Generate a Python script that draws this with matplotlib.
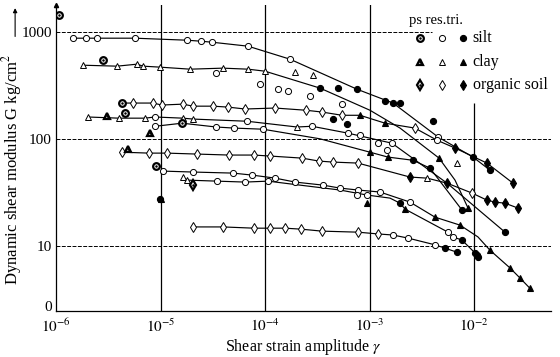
import matplotlib
matplotlib.use("Agg")
import matplotlib.pyplot as plt
from matplotlib.ticker import NullLocator

plt.rcParams['font.family'] = ['Liberation Serif', 'DejaVu Serif']
plt.rcParams['mathtext.fontset'] = 'stix'

# strain amplitude gamma, shear modulus G (kg/cm2), marker kind per point
# kind: soil letter (s silt, c clay, o organic) + test letter (p ps, r res, t tri, n none)
gam1 = [1.46e-6, 1.94e-6, 2.47e-6, 5.7e-6, 1.79e-5, 2.44e-5, 3.1e-5, 6.88e-5, 1.73e-4, 7.59e-4, 1.68e-3, 4.53e-3, 9.78e-3, 1.42e-2]
G1 = [873, 873, 873, 873, 836, 818, 801, 735, 556, 291, 216, 104, 67.5, 51]
k1 = ['sr'] * 9 + ['st', 'st', 'sr', 'st', 'st']

gam2 = [1.81e-6, 3.84e-6, 5.96e-6, 6.81e-6, 9.9e-6, 1.92e-5, 3.96e-5, 6.88e-5, 1.0e-4, 3.36e-4, 1.01e-3, 1.96e-3, 4.63e-3, 6.58e-3, 8.77e-3]
G2 = [488, 478, 499, 478, 468, 448, 458, 448, 429, 298, 185, 126, 66, 41.1, 22.5]
k2 = ['cr'] * 9 + ['st', 'cn', 'cn', 'ct', 'cn', 'ct']

gam3 = [4.28e-6, 5.46e-6, 8.48e-6, 1.03e-5, 1.64e-5, 2.05e-5, 3.18e-5, 4.42e-5, 6.44e-5, 1.25e-4, 2.47e-4, 3.51e-4, 5.46e-4, 8.11e-4, 1.41e-3, 2.72e-3, 4.43e-3, 6.58e-3, 1.33e-2, 2.36e-2]
G3 = [216, 216, 216, 207, 211, 202, 202, 198, 190, 194, 185, 178, 166, 166, 140, 126, 97, 82, 59.3, 38.5]
k3 = ['sp'] + ['or'] * 12 + ['ct', 'ct', 'or', 'sr', 'ot', 'ot', 'ot']

gam4 = [2.02e-6, 4.0e-6, 7.1e-6, 8.86e-6, 1.64e-5, 2.05e-5, 6.73e-5, 2.02e-4, 2.82e-4, 6.22e-4, 1.64e-3, 5.52e-3, 1.98e-2]
G4 = [160, 156, 156, 160, 156, 153, 146, 129, 131, 113, 91, 38.5, 13.4]
k4 = ['cr', 'cr', 'cr', 'sr', 'cr', 'cr', 'sr', 'cr', 'sr', 'sr', 'sr', 'sn', 'st']

gam5 = [8.86e-6, 1.61e-5, 3.4e-5, 5.05e-5, 9.57e-5, 3.36e-4, 1.01e-3, 1.5e-3, 2.61e-3, 3.79e-3, 7.67e-3]
G5 = [131, 140, 129, 126, 123, 100, 75, 67.5, 63, 53.2, 21.6]
k5 = ['sr', 'sp', 'sr', 'sr', 'sr', 'sn', 'ct', 'ct', 'st', 'st', 'st']

gam6 = [4.28e-6, 7.76e-6, 1.15e-5, 2.24e-5, 4.53e-5, 7.85e-5, 1.12e-4, 2.26e-4, 3.29e-4, 4.47e-4, 7.76e-4, 2.44e-3, 3.55e-3, 5.52e-3, 9.57e-3, 1.33e-2, 1.59e-2, 1.98e-2, 2.64e-2]
G6 = [75, 73.5, 73.5, 72, 70.5, 70.5, 69, 66, 61.9, 60.6, 59.3, 43.9, 42.9, 38.5, 31.1, 26.7, 25.6, 25.0, 22.5]
k6 = ['or'] * 11 + ['ot', 'cr', 'ot', 'or', 'ot', 'ot', 'ot', 'ot']

gam7 = [1.06e-5, 2.05e-5, 4.94e-5, 7.51e-5, 1.25e-4, 1.94e-4, 3.59e-4, 5.22e-4, 7.76e-4, 1.26e-3, 2.44e-3, 4.24e-3, 7.34e-3, 1.09e-2, 1.42e-2, 2.21e-2, 2.75e-2, 3.43e-2]
G7 = [49.9, 48.9, 47.8, 45.8, 42.9, 39.4, 36.9, 34.6, 33.2, 31.8, 25.6, 18.5, 15.6, 12.1, 9.1, 6.2, 5.0, 4.0]
k7 = ['sr'] * 11 + ['ct', 'ct', 'cn', 'ct', 'ct', 'ct', 'ct']

gam8 = [1.64e-5, 1.79e-5, 3.48e-5, 6.44e-5, 1.07e-4, 2.16e-4, 5.22e-4, 9.46e-4, 1.57e-3, 1.96e-3, 2.19e-3, 5.64e-3, 6.29e-3, 7.67e-3, 1.07e-2]
G8 = [43.9, 41.1, 40.2, 39.4, 40.2, 36.9, 33.2, 29.8, 27.9, 25.0, 22.0, 13.4, 12.1, 11.3, 8.2]
k8 = ['cr', 'cr', 'sr', 'sr', 'sr', 'sn', 'sn', 'sr', 'sn', 'st', 'ct', 'sr', 'sr', 'st', 'st']

gam9 = [2.05e-5, 3.96e-5, 7.85e-5, 1.12e-4, 1.55e-4, 2.21e-4, 3.51e-4, 7.76e-4, 1.2e-3, 1.68e-3, 2.33e-3, 4.24e-3, 5.28e-3, 6.87e-3]
G9 = [15.0, 15.0, 14.6, 14.6, 14.6, 14.3, 13.7, 13.4, 12.9, 12.6, 11.8, 10.2, 9.5, 8.7]
k9 = ['or'] * 9 + ['sr', 'sr', 'sr', 'st', 'st']

curves = [(gam1, G1, k1), (gam2, G2, k2), (gam3, G3, k3), (gam4, G4, k4), (gam5, G5, k5),
          (gam6, G6, k6), (gam7, G7, k7), (gam8, G8, k8), (gam9, G9, k9)]

# single points not on a drawn curve
gam_pts = [1.07e-6, 2.82e-6, 3.08e-6, 4.57e-6, 4.9e-6, 7.94e-6, 9.0e-6, 9.9e-6, 1.02e-5, 2.05e-5,
           1.94e-4, 2.88e-4, 5.0e-4, 3.4e-5, 8.95e-5, 1.33e-4, 1.66e-4, 2.7e-4, 5.46e-4, 4.47e-4,
           6.09e-4, 1.41e-3, 1.96e-3, 4.06e-3, 6.87e-3, 9.46e-4, 8.11e-4, 1.2e-3, 1.47e-3, 7.6e-4,
           1.02e-2, 1.09e-2]
G_pts = [1432, 544, 163, 174, 80, 113, 55.6, 27.3, 27.3, 36.9,
         420, 394, 298, 411, 324, 291, 279, 251, 211, 153,
         137, 225, 216, 146, 59.3, 25, 108, 91, 78, 29.8,
         8.5, 7.8]
k_pts = ['sp', 'sp', 'cp', 'sp', 'cp', 'cp', 'sp', 'st', 'ct', 'op',
         'cr', 'cr', 'st', 'sr', 'sr', 'sr', 'sr', 'sr', 'sr', 'st',
         'st', 'st', 'st', 'st', 'cr', 'ct', 'sr', 'sr', 'sr', 'sr',
         'st', 'st']

xticks = [1e-6, 1e-5, 1e-4, 1e-3, 1e-2]
xlabels = [r'$10^{-6}$', r'$10^{-5}$', r'$10^{-4}$', r'$10^{-3}$', r'$10^{-2}$']
yticks = [2.73, 10, 100, 1000]
ylabels = ['0', '10', '100', '1000']

shapes = {'s': 'o', 'c': '^', 'o': 'd'}


def draw_marker(ax, x, y, kind, transform=None):
    if kind[1] == 'n':
        return
    kw = {}
    if transform is not None:
        kw = dict(transform=transform, clip_on=False)
    m = shapes[kind[0]]
    ms = 5.0 if m == 'd' else 4.4
    if kind[1] == 't':
        ax.plot(x, y, m, ms=ms, mfc='black', mec='black', mew=0.8, zorder=4, **kw)
    elif kind[1] == 'r':
        ax.plot(x, y, m, ms=ms, mfc='white', mec='black', mew=0.7, zorder=4, **kw)
    else:
        ax.plot(x, y, m, ms=ms + 0.4, mfc='white', mec='black', mew=1.6, zorder=4, **kw)
        ax.plot(x, y, '.', ms=1.6, color='black', zorder=5, **kw)


fig = plt.figure(figsize=(5.6, 3.57), dpi=100)
ax = fig.add_axes([0.1, 0.1297, 0.884, 0.856])
ax.set_xscale('log')
ax.set_yscale('log')
ax.set_xlim(1e-6, 0.0546)
ax.set_ylim(2.47, 1780)

# grid as in the original: dashed horizontals, solid verticals
ax.hlines(1000, 1e-6, 3.96e-3, colors='black', linestyles=(0, (4, 1.5)), lw=0.7)
ax.axhline(100, color='black', ls=(0, (4, 1.5)), lw=0.7)
ax.axhline(10, color='black', ls=(0, (4, 1.5)), lw=0.7)
for xv in [1e-5, 1e-4, 1e-3]:
    ax.axvline(xv, color='black', lw=0.9)
ax.vlines(1e-2, 2.47, 216, colors='black', lw=0.9)

for gam, G, kinds in curves:
    ax.plot(gam, G, '-', color='black', lw=0.85, zorder=3)
    for g, v, k in zip(gam, G, kinds):
        draw_marker(ax, g, v, k)

for g, v, k in zip(gam_pts, G_pts, k_pts):
    draw_marker(ax, g, v, k)

ax.set_xticks(xticks)
ax.set_xticklabels(xlabels, fontsize=11)
ax.set_yticks(yticks)
ax.set_yticklabels(ylabels, fontsize=11)
ax.xaxis.set_minor_locator(NullLocator())
ax.yaxis.set_minor_locator(NullLocator())
ax.tick_params(axis='x', length=0, pad=5)
ax.tick_params(axis='y', length=0, pad=3)

ax.spines['top'].set_visible(False)
ax.spines['right'].set_visible(False)
ax.spines['left'].set_linewidth(0.9)
ax.spines['bottom'].set_linewidth(0.9)
ax.plot(0, 1, '^', color='black', ms=3, transform=ax.transAxes, clip_on=False)

ax.set_xlabel(r'Shear strain amplitude $\gamma$', fontsize=11.5)
ax.xaxis.set_label_coords(0.5, -0.085)
ax.set_ylabel(r'Dynamic shear modulus G kg/cm$^2$', fontsize=12)
ax.yaxis.set_label_coords(-0.064, 0.463)
fig.add_artist(matplotlib.patches.FancyArrowPatch((0.027, 0.89), (0.027, 0.985),
                                                  transform=fig.transFigure, arrowstyle='-|>',
                                                  mutation_scale=6, lw=0.8, color='black'))

# hand legend: test types across, soils down
ax.text(0.713, 0.951, 'ps res.tri.', transform=ax.transAxes, fontsize=10.5, va='center')
rows = [('s', 'silt', 0.892), ('c', 'clay', 0.813), ('o', 'organic soil', 0.738)]
for soil, name, yy in rows:
    for test, xx in zip('prt', [0.735, 0.780, 0.822]):
        draw_marker(ax, xx, yy, soil + test, transform=ax.transAxes)
    ax.text(0.842, yy, name, transform=ax.transAxes, fontsize=11.5, va='center')

fig.savefig('out.png', dpi=100)
